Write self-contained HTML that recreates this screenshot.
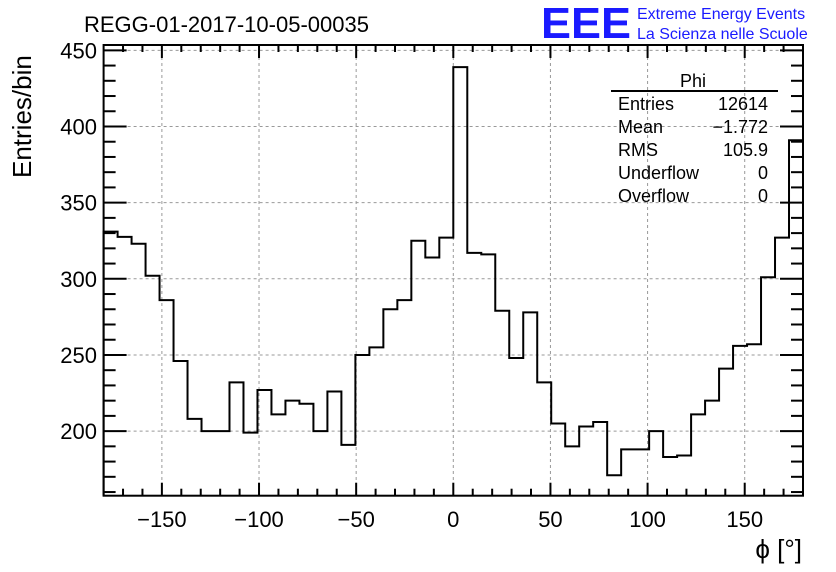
<!DOCTYPE html>
<html><head><meta charset="utf-8"><style>
body{margin:0;background:#fff}
svg{display:block;font-family:"Liberation Sans",sans-serif}
</style></head><body>
<svg id="chart" width="836" height="572" viewBox="0 0 836 572">
<rect width="836" height="572" fill="#fff"/>
<g id="grid"></g>
<g id="ticks"></g>
<path id="hist" fill="none" stroke="#000" stroke-width="2"/>
<rect x="103.6" y="45" width="699.4" height="450.7" fill="none" stroke="#000" stroke-width="2"/>
<g id="labels" font-size="22"></g>
<text x="84" y="32" font-size="22">REGG-01-2017-10-05-00035</text>
<text x="541" y="38" font-size="44" fill="#1a1aff" font-weight="bold" textLength="90" lengthAdjust="spacingAndGlyphs">EEE</text>
<text x="637" y="19" font-size="16" fill="#1a1aff">Extreme Energy Events</text>
<text x="637" y="39" font-size="16" fill="#1a1aff">La Scienza nelle Scuole</text>
<text transform="translate(31,178) rotate(-90)" font-size="26">Entries/bin</text>
<text x="802" y="558" font-size="26" text-anchor="end">ϕ [°]</text>
<g font-size="18">
<text x="693" y="87" text-anchor="middle">Phi</text>
<line x1="611" y1="91" x2="778" y2="91" stroke="#000" stroke-width="2"/>
<text x="618" y="110">Entries</text><text x="768" y="110" text-anchor="end">12614</text>
<text x="618" y="133">Mean</text><text x="768" y="133" text-anchor="end">−1.772</text>
<text x="618" y="156">RMS</text><text x="768" y="156" text-anchor="end">105.9</text>
<text x="618" y="179">Underflow</text><text x="768" y="179" text-anchor="end">0</text>
<text x="618" y="202">Overflow</text><text x="768" y="202" text-anchor="end">0</text>
</g>
</svg>
<script>
const counts=[331,327.5,323,302,286,246,208,200,200,232,199,227,211,220,218,200,226,191,250,255,280,286,325,314,327,
439,317,316,279,248,278,232,205,190,203,206,171,188,188,200,183,184,211,220,241,256,257,301,327,391];
const xTickValues=[-150,-100,-50,0,50,100,150];
const yTickValues=[200,250,300,350,400,450];
const xMin=-180,xMax=180,yMin=157.6,yMax=453.5;
const L=103.6,R=803,T=45,B=495.7;
const sx=v=>L+(v-xMin)/(xMax-xMin)*(R-L);
const sy=v=>B-(v-yMin)/(yMax-yMin)*(B-T);
const NS="http://www.w3.org/2000/svg";
function mk(tag,attrs,parent){const e=document.createElementNS(NS,tag);for(const k in attrs)e.setAttribute(k,attrs[k]);document.getElementById(parent).appendChild(e);return e;}
const w=(xMax-xMin)/counts.length;
let d="M"+sx(xMin)+","+B;
counts.forEach((c,i)=>{const x0=sx(xMin+i*w),x1=sx(xMin+(i+1)*w),y=sy(c);d+=` L${x0},${y} L${x1},${y}`;});
d+=` L${sx(xMax)},${B}`;
document.getElementById('hist').setAttribute('d',d);
xTickValues.forEach(v=>{const x=sx(v);
const g=mk('line',{x1:x,x2:x,y1:T,y2:B,stroke:'#999','stroke-dasharray':'3,3','stroke-width':1},'grid');


const t=mk('text',{x:x,y:527,'text-anchor':'middle'},'labels');t.textContent=(v<0?'−':'')+Math.abs(v);

});
yTickValues.forEach(v=>{const y=sy(v);
const g=mk('line',{x1:L,x2:R,y1:y,y2:y,stroke:'#999','stroke-dasharray':'3,3','stroke-width':1},'grid');


const t=mk('text',{x:97,y:y+8,'text-anchor':'end'},'labels');t.textContent=v;

});
for(let v=-170;v<=170;v+=10){const x=sx(v),len=v%50===0?13:7;
const a=mk('line',{x1:x,x2:x,y1:B,y2:B-len,stroke:'#000','stroke-width':2},'ticks');


const b=mk('line',{x1:x,x2:x,y1:T,y2:T+len,stroke:'#000','stroke-width':2},'ticks');

}
for(let v=160;v<=450;v+=10){const y=sy(v),len=v%50===0?23:12;
const a=mk('line',{x1:L,x2:L+len,y1:y,y2:y,stroke:'#000','stroke-width':2},'ticks');


const b=mk('line',{x1:R,x2:R-len,y1:y,y2:y,stroke:'#000','stroke-width':2},'ticks');

}
</script>
</body></html>
